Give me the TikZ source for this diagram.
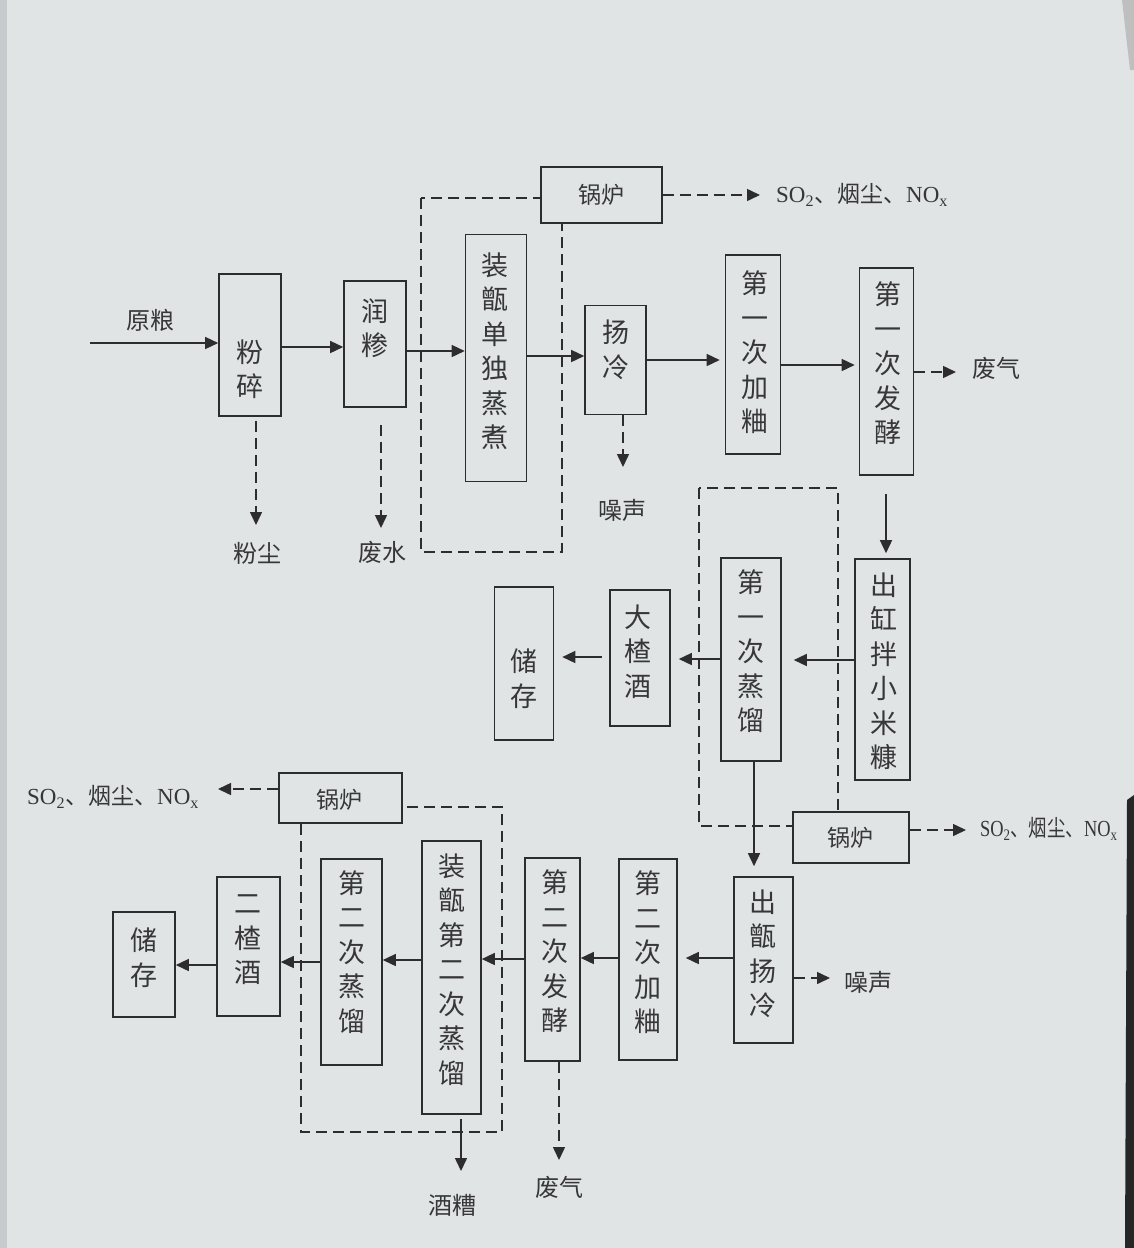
\documentclass[tikz,border=0pt]{standalone}
\usepackage{fontspec}
\setmainfont{Liberation Serif}
\newfontfamily\cjk{Noto Sans CJK SC}
\usetikzlibrary{arrows.meta}
\definecolor{bgc}{RGB}{225,228,229}
\definecolor{edgec}{RGB}{200,203,205}
\definecolor{linec}{RGB}{45,45,45}
\definecolor{txtc}{RGB}{55,55,55}
\begin{document}
\begin{tikzpicture}[x=1pt,y=-1pt,
  box/.style={draw=linec, line width=1.6pt, fill=bgc, inner sep=0pt},
  vt/.style={font=\cjk\fontsize{27}{34.5}\selectfont, align=center, inner sep=0pt, text=txtc},
  lbl/.style={font=\cjk\fontsize{24}{28}\selectfont, inner sep=0pt, text=txtc},
  gl/.style={font=\cjk\fontsize{23}{28}\selectfont, inner sep=0pt, text=txtc},
  emis/.style={font=\fontsize{23}{28}\selectfont, inner sep=0pt, text=txtc},
  arr/.style={draw=linec, line width=1.5pt, -{Triangle[length=13pt,width=12pt]}},
  darr/.style={arr, dash pattern=on 11pt off 6pt},
  dbox/.style={draw=linec, line width=1.5pt, dash pattern=on 11pt off 6pt}]
\fill[bgc] (0,0) rectangle (1134,1248);
\useasboundingbox (0,0) rectangle (1134,1248);

% dashed enclosures
\draw[dbox] (421,198) rectangle (562,552);
\draw[dbox] (699,488) rectangle (838,826);
\draw[dbox] (301,807) rectangle (502,1132);

% ---------- top row ----------
\node[box,minimum width=62pt,minimum height=142pt] (fensui) at (250,345) {};
\node[vt] (fensuiT) at (250,369) {粉\\碎};
\node[box,minimum width=62pt,minimum height=126pt] (runshen) at (375,344) {};
\node[vt] (runshenT) at (375,328) {润\\糁};
\node[box,minimum width=61pt,minimum height=247pt] (zhuang1) at (496,358) {};
\node[vt] (zhuang1T) at (495,351) {装\\甑\\单\\独\\蒸\\煮};
\node[box,minimum width=61pt,minimum height=109pt] (yangleng) at (615.5,360) {};
\node[vt] (yanglengT) at (616,350) {扬\\冷};
\node[box,minimum width=55pt,minimum height=199pt] (jiaqu1) at (753,354.5) {};
\node[vt] (jiaqu1T) at (755,352.5) {第\\一\\次\\加\\粬};
\node[box,minimum width=54pt,minimum height=207pt] (fajiao1) at (886.5,371.5) {};
\node[vt] (fajiao1T) at (888,363.5) {第\\一\\次\\发\\酵};
\node[box,minimum width=121pt,minimum height=56pt] (guolu1) at (601.5,195) {};
\node[gl] (guolu1T) at (601,195) {锅炉};

% ---------- middle row ----------
\node[box,minimum width=55pt,minimum height=221pt] (chugang) at (882.5,669.5) {};
\node[vt] (chugangT) at (884,671) {出\\缸\\拌\\小\\米\\糠};
\node[box,minimum width=60pt,minimum height=203pt] (zhengliu1) at (751,659.5) {};
\node[vt] (zhengliu1T) at (751,651.5) {第\\一\\次\\蒸\\馏};
\node[box,minimum width=60pt,minimum height=136pt] (dazha) at (640,658) {};
\node[vt] (dazhaT) at (638,651.5) {大\\楂\\酒};
\node[box,minimum width=59pt,minimum height=153pt] (chucun1) at (524,663.5) {};
\node[vt] (chucun1T) at (524,678.5) {储\\存};
\node[box,minimum width=116pt,minimum height=51pt] (guolu2) at (851,837.5) {};
\node[gl] (guolu2T) at (850,838) {锅炉};

% ---------- bottom row ----------
\node[box,minimum width=59pt,minimum height=166pt] (chuzeng) at (763.5,960) {};
\node[vt] (chuzengT) at (763,954) {出\\甑\\扬\\冷};
\node[box,minimum width=58pt,minimum height=201pt] (jiaqu2) at (648,959.5) {};
\node[vt] (jiaqu2T) at (648,952.5) {第\\二\\次\\加\\粬};
\node[box,minimum width=55pt,minimum height=203pt] (fajiao2) at (552.5,959.5) {};
\node[vt] (fajiao2T) at (555,951.5) {第\\二\\次\\发\\酵};
\node[box,minimum width=59pt,minimum height=273pt] (zhuang2) at (451.5,977.5) {};
\node[vt] (zhuang2T) at (452,969.5) {装\\甑\\第\\二\\次\\蒸\\馏};
\node[box,minimum width=61pt,minimum height=206pt] (zhengliu2) at (351.5,962) {};
\node[vt] (zhengliu2T) at (352,952) {第\\二\\次\\蒸\\馏};
\node[box,minimum width=63pt,minimum height=139pt] (erzha) at (248.5,946.5) {};
\node[vt] (erzhaT) at (248,940) {二\\楂\\酒};
\node[box,minimum width=62pt,minimum height=105pt] (chucun2) at (144,964.5) {};
\node[vt] (chucun2T) at (144,957.5) {储\\存};
\node[box,minimum width=123pt,minimum height=50pt] (guolu3) at (340.5,798) {};
\node[gl] (guolu3T) at (339,800) {锅炉};

% ---------- top row connectors ----------
\coordinate (in0) at (90,343);
\draw[arr] (in0) -- (fensui.west |- in0);
\node[lbl] (yuanliang) at (150,320) {原粮};
\draw[arr] (fensui.east |- 0,347) -- (runshen.west |- 0,347);
\draw[arr] (runshen.east |- 0,351) -- (zhuang1.west |- 0,351);
\draw[arr] (zhuang1.east |- 0,356) -- (yangleng.west |- 0,356);
\draw[arr, shorten >=5pt] (yangleng.east |- 0,360) -- (jiaqu1.west |- 0,360);
\draw[arr, shorten >=4pt] (jiaqu1.east |- 0,365) -- (fajiao1.west |- 0,365);
\coordinate (t1) at (956,372);
\draw[darr] (fajiao1.east |- t1) -- (t1);
\node[lbl] (feiqi1) at (996,368) {废气};
\coordinate (t2) at (760,195);
\draw[darr] (guolu1.east |- t2) -- (t2);
\node[emis, anchor=west] (em1) at (776,195) {SO\textsubscript{2}{\cjk 、烟尘、}NO\textsubscript{x}};
\coordinate (t3) at (256,525);
\draw[darr, shorten <=4pt] (fensui.south -| t3) -- (t3);
\node[lbl] (fenchen) at (257,553) {粉尘};
\coordinate (t4) at (381,528);
\draw[darr, shorten <=17pt] (runshen.south -| t4) -- (t4);
\node[lbl] (feishui) at (382,552) {废水};
\coordinate (t5) at (623,467);
\draw[darr] (yangleng.south -| t5) -- (t5);
\node[lbl] (zaosheng1) at (622,510) {噪声};

% ---------- middle row connectors ----------
\draw[arr, shorten <=18pt, shorten >=5pt] (fajiao1.south -| 886,0) -- (chugang.north -| 886,0);
\draw[arr, shorten >=12pt] (chugang.west |- 0,660) -- (zhengliu1.east |- 0,660);
\draw[arr, shorten >=8pt] (zhengliu1.west |- 0,659) -- (dazha.east |- 0,659);
\draw[arr, shorten <=7pt, shorten >=8pt] (dazha.west |- 0,657) -- (chucun1.east |- 0,657);
\coordinate (t6) at (966,830);
\draw[darr] (guolu2.east |- t6) -- (t6);
\node[emis, anchor=west] (em2) at (980,829) {\scalebox{0.8}[1]{SO\textsubscript{2}{\cjk 、烟尘、}NO\textsubscript{x}}};
\draw[arr, shorten >=10pt] (zhengliu1.south -| 754,0) -- (chuzeng.north -| 754,0);

% ---------- bottom row connectors ----------
\coordinate (t7) at (830,978);
\draw[darr] (chuzeng.east |- t7) -- (t7);
\node[lbl] (zaosheng2) at (868,982) {噪声};
\draw[arr, shorten >=8pt] (chuzeng.west |- 0,958) -- (jiaqu2.east |- 0,958);
\draw[arr] (jiaqu2.west |- 0,958) -- (fajiao2.east |- 0,958);
\coordinate (t8) at (559,1160);
\draw[darr] (fajiao2.south -| t8) -- (t8);
\node[lbl] (feiqi2) at (559,1187) {废气};
\draw[arr] (fajiao2.west |- 0,959) -- (zhuang2.east |- 0,959);
\draw[arr] (zhuang2.west |- 0,960) -- (zhengliu2.east |- 0,960);
\draw[arr] (zhengliu2.west |- 0,962) -- (erzha.east |- 0,962);
\draw[arr] (erzha.west |- 0,965) -- (chucun2.east |- 0,965);
\coordinate (t9) at (461,1171);
\draw[arr, shorten <=4pt] (zhuang2.south -| t9) -- (t9);
\node[lbl] (jiuzao) at (452,1205) {酒糟};
\coordinate (t10) at (218,789);
\draw[darr] (guolu3.west |- t10) -- (t10);
\node[emis, anchor=west] (em3) at (27,797) {SO\textsubscript{2}{\cjk 、烟尘、}NO\textsubscript{x}};

% page edges of the photograph
\fill[edgec] (0,0) rectangle (7,1248);
\fill[black!85] (1127,800) -- (1134,795) -- (1134,1248) -- (1125,1248) -- cycle;
\fill[black!25] (1122,0) -- (1134,0) -- (1134,70) -- (1130,70) -- cycle;
\end{tikzpicture}
\end{document}
